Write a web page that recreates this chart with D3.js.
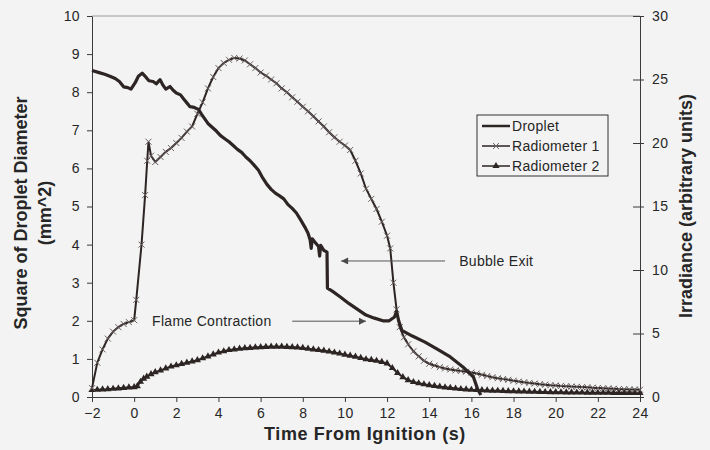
<!DOCTYPE html>
<html lang="en">
<head>
<meta charset="UTF-8">
<script src="https://d3js.org/d3.v7.min.js"></script>
<style>
  body { margin: 0; background: #f3f3f3; }
  svg { display: block; font-family: "Liberation Sans", Arial, sans-serif; }
  .axis path, .axis line { stroke: #3a3a3a; }
  .axis text { font-size: 14px; fill: #262626; letter-spacing: 0.4px; }
  .title { font-weight: bold; font-size: 18px; fill: #262626; }
  .note { font-size: 14px; fill: #262626; letter-spacing: 0.3px; }
</style>
</head>
<body>
<svg id="chart"></svg>
<script>
// tick labels
const xTicks = [-2, 0, 2, 4, 6, 8, 10, 12, 14, 16, 18, 20, 22, 24];
const leftTicks = [0, 1, 2, 3, 4, 5, 6, 7, 8, 9, 10];
const rightTicks = [0, 5, 10, 15, 20, 25, 30];

// square of droplet diameter (mm^2) vs time (s)
const droplet = [
  [-2.0, 8.57], [-1.7, 8.52], [-1.4, 8.47], [-1.15, 8.42], [-0.9, 8.36], [-0.7, 8.28],
  [-0.5, 8.14], [-0.3, 8.12], [-0.15, 8.08], [0.05, 8.25], [0.2, 8.42], [0.38, 8.5],
  [0.55, 8.4], [0.7, 8.3], [0.9, 8.28], [1.05, 8.22], [1.23, 8.33], [1.35, 8.2],
  [1.5, 8.08], [1.7, 8.15], [1.85, 8.05], [2.0, 7.98], [2.2, 7.93], [2.35, 7.82],
  [2.5, 7.72], [2.65, 7.62], [2.85, 7.6], [3.05, 7.55], [3.2, 7.42], [3.35, 7.3],
  [3.5, 7.18], [3.7, 7.08], [3.9, 6.98], [4.1, 6.86], [4.3, 6.78], [4.5, 6.7],
  [4.7, 6.6], [4.9, 6.5], [5.1, 6.42], [5.3, 6.3], [5.5, 6.2], [5.7, 6.08],
  [5.9, 5.95], [6.1, 5.75], [6.3, 5.58], [6.5, 5.45], [6.7, 5.35], [6.9, 5.28],
  [7.1, 5.2], [7.3, 5.05], [7.5, 4.95], [7.7, 4.83], [7.9, 4.65], [8.1, 4.46],
  [8.25, 4.3], [8.35, 4.12], [8.4, 3.9], [8.45, 4.15], [8.6, 4.05], [8.75, 3.95],
  [8.8, 3.7], [8.85, 3.98], [9.0, 3.85], [9.15, 3.8], [9.17, 2.86], [9.4, 2.78],
  [9.8, 2.62], [10.2, 2.45], [10.6, 2.3], [11.0, 2.15], [11.4, 2.07], [11.8, 2.0],
  [12.1, 2.0], [12.35, 2.1], [12.45, 2.25], [12.55, 2.0], [12.7, 1.75], [13.2, 1.6],
  [13.8, 1.44], [14.4, 1.25], [15.0, 1.05], [15.6, 0.79], [16.1, 0.52], [16.3, 0.2],
  [16.45, 0.05]
];

// radiometer 1 irradiance (arbitrary units) vs time (s)
const radiometer1 = [
  [-2.0, 0.7], [-1.75, 2.7], [-1.5, 3.75], [-1.25, 4.6], [-1.0, 5.15], [-0.75, 5.5],
  [-0.5, 5.75], [-0.25, 5.9], [0.0, 6.05], [0.1, 7.65], [0.35, 12.0], [0.52, 15.9],
  [0.62, 18.6], [0.68, 20.1], [0.8, 19.0], [1.0, 18.5], [1.25, 18.9], [1.5, 19.3],
  [1.75, 19.6], [2.0, 20.0], [2.25, 20.4], [2.5, 20.9], [2.75, 21.3], [3.0, 22.3],
  [3.25, 23.2], [3.5, 24.3], [3.75, 25.2], [4.0, 25.9], [4.25, 26.3], [4.5, 26.55],
  [4.75, 26.7], [5.0, 26.65], [5.25, 26.5], [5.5, 26.2], [5.75, 25.9], [6.0, 25.55],
  [6.25, 25.3], [6.5, 25.0], [6.75, 24.7], [7.0, 24.3], [7.25, 24.0], [7.5, 23.6],
  [7.75, 23.25], [8.0, 22.85], [8.25, 22.5], [8.5, 22.1], [8.75, 21.7], [9.0, 21.3],
  [9.25, 20.85], [9.5, 20.45], [9.75, 20.1], [10.0, 19.8], [10.25, 19.45], [10.5, 18.6],
  [10.75, 17.6], [11.0, 16.4], [11.25, 15.6], [11.5, 14.8], [11.75, 13.8], [12.0, 12.7],
  [12.15, 11.7], [12.3, 9.0], [12.45, 6.9], [12.6, 5.5], [12.8, 4.7], [13.0, 4.15],
  [13.25, 3.6], [13.5, 3.2], [13.75, 2.85], [14.0, 2.62], [14.25, 2.48], [14.5, 2.35],
  [14.75, 2.25], [15.0, 2.17], [15.25, 2.1], [15.5, 2.05], [15.75, 1.99], [16.0, 1.93],
  [16.25, 1.85], [16.5, 1.75], [16.75, 1.65], [17.0, 1.56], [17.25, 1.48], [17.5, 1.41],
  [17.75, 1.35], [18.0, 1.28], [18.25, 1.22], [18.5, 1.16], [18.75, 1.11], [19.0, 1.06],
  [19.25, 1.01], [19.5, 0.97], [19.75, 0.93], [20.0, 0.9], [20.25, 0.87], [20.5, 0.85],
  [20.75, 0.82], [21.0, 0.8], [21.25, 0.78], [21.5, 0.76], [21.75, 0.73], [22.0, 0.71],
  [22.25, 0.69], [22.5, 0.67], [22.75, 0.65], [23.0, 0.63], [23.25, 0.62], [23.5, 0.6],
  [23.75, 0.59], [24.0, 0.57]
];

// radiometer 2 irradiance (arbitrary units) vs time (s)
const radiometer2 = [
  [-2.0, 0.55], [-1.75, 0.57], [-1.5, 0.6], [-1.25, 0.62], [-1.0, 0.65], [-0.75, 0.68],
  [-0.5, 0.72], [-0.25, 0.75], [0.0, 0.78], [0.15, 0.85], [0.3, 1.2], [0.45, 1.45],
  [0.6, 1.6], [0.8, 1.8], [1.0, 1.95], [1.25, 2.1], [1.5, 2.25], [1.75, 2.4],
  [2.0, 2.5], [2.25, 2.6], [2.5, 2.7], [2.75, 2.8], [3.0, 2.9], [3.25, 3.05],
  [3.5, 3.2], [3.75, 3.35], [4.0, 3.5], [4.25, 3.6], [4.5, 3.7], [4.75, 3.75],
  [5.0, 3.8], [5.25, 3.84], [5.5, 3.87], [5.75, 3.9], [6.0, 3.93], [6.25, 3.95],
  [6.5, 3.96], [6.75, 3.97], [7.0, 3.96], [7.25, 3.95], [7.5, 3.93], [7.75, 3.9],
  [8.0, 3.86], [8.25, 3.8], [8.5, 3.75], [8.75, 3.7], [9.0, 3.65], [9.25, 3.58],
  [9.5, 3.5], [9.75, 3.42], [10.0, 3.33], [10.25, 3.25], [10.5, 3.18], [10.75, 3.08],
  [11.0, 2.97], [11.25, 2.92], [11.5, 2.85], [11.75, 2.76], [12.0, 2.64], [12.25, 2.28],
  [12.5, 1.89], [12.75, 1.56], [13.0, 1.32], [13.25, 1.18], [13.5, 1.08], [13.75, 1.0],
  [14.0, 0.93], [14.25, 0.87], [14.5, 0.81], [14.75, 0.76], [15.0, 0.72], [15.25, 0.67],
  [15.5, 0.63], [15.75, 0.6], [16.0, 0.57], [16.25, 0.55], [16.5, 0.54], [16.75, 0.52],
  [17.0, 0.5], [17.25, 0.49], [17.5, 0.48], [17.75, 0.46], [18.0, 0.45], [18.25, 0.44],
  [18.5, 0.43], [18.75, 0.42], [19.0, 0.41], [19.25, 0.4], [19.5, 0.39], [19.75, 0.38],
  [20.0, 0.38], [20.25, 0.37], [20.5, 0.36], [20.75, 0.36], [21.0, 0.35], [21.25, 0.35],
  [21.5, 0.34], [21.75, 0.34], [22.0, 0.33], [22.25, 0.33], [22.5, 0.33], [22.75, 0.32],
  [23.0, 0.32], [23.25, 0.32], [23.5, 0.31], [23.75, 0.31], [24.0, 0.31]
];

const legendNames = ["Droplet", "Radiometer 1", "Radiometer 2"];

// arrows + labels, in data coordinates of the left axis
const notes = [
  { label: "Bubble Exit", textT: 15.42, textV: 3.44, fromT: 14.75, toT: 9.82, arrowV: 3.57 },
  { label: "Flame Contraction", textT: 0.85, textV: 1.86, fromT: 7.5, toT: 11.0, arrowV: 1.99 }
];

const svgWidth = 710, svgHeight = 450;
const margin = { top: 16, right: 70, bottom: 53, left: 92 };
const lineColor = "#2d2424";

const svg = d3.select("#chart").attr("width", svgWidth).attr("height", svgHeight);

const x = d3.scaleLinear().domain([-2, 24]).range([margin.left, svgWidth - margin.right]);
const yL = d3.scaleLinear().domain([0, 10]).range([svgHeight - margin.bottom, margin.top]);
const yR = d3.scaleLinear().domain([0, 30]).range([svgHeight - margin.bottom, margin.top]);

// top border
svg.append("line")
  .attr("x1", x(-2)).attr("x2", x(24))
  .attr("y1", yL(10)).attr("y2", yL(10))
  .attr("stroke", "#9a9a9a");

// axes
svg.append("g").attr("class", "axis")
  .attr("transform", `translate(0,${yL(0)})`)
  .call(d3.axisBottom(x).tickValues(xTicks).tickSize(5).tickSizeOuter(0).tickPadding(6));

svg.append("g").attr("class", "axis")
  .attr("transform", `translate(${x(-2)},0)`)
  .call(d3.axisLeft(yL).tickValues(leftTicks).tickSize(5).tickSizeOuter(0).tickPadding(7));

const rightAxis = svg.append("g").attr("class", "axis")
  .attr("transform", `translate(${x(24)},0)`)
  .call(d3.axisRight(yR).tickValues(rightTicks).tickSize(4).tickSizeOuter(0).tickPadding(8));
rightAxis.selectAll(".tick").append("line").attr("x2", -7).attr("stroke", "#3a3a3a");

svg.selectAll(".axis .domain").attr("stroke", "#3a3a3a");

// axis titles
svg.append("text").attr("class", "title")
  .attr("x", 365).attr("y", 440)
  .attr("text-anchor", "middle").style("letter-spacing", "0.6px")
  .text("Time From Ignition (s)");

svg.append("text").attr("class", "title")
  .attr("transform", "translate(27,213) rotate(-90)")
  .attr("text-anchor", "middle")
  .text("Square of Droplet Diameter");
svg.append("text").attr("class", "title")
  .attr("transform", "translate(51,213) rotate(-90)")
  .attr("text-anchor", "middle")
  .text("(mm^2)");

svg.append("text").attr("class", "title")
  .attr("transform", "translate(692,206) rotate(-90)")
  .attr("text-anchor", "middle")
  .text("Irradiance (arbitrary units)");

// series
const lineL = d3.line().x(d => x(d[0])).y(d => yL(d[1]));
const lineR = d3.line().x(d => x(d[0])).y(d => yR(d[1]));
const crossPath = "M-3,-3L3,3M-3,3L3,-3";
const triPath = d3.symbol().type(d3.symbolTriangle).size(22)();

// radiometer 2
svg.append("path").datum(radiometer2)
  .attr("d", lineR).attr("fill", "none")
  .attr("stroke", lineColor).attr("stroke-width", 2);
svg.append("g").selectAll("path")
  .data(radiometer2).enter().append("path")
  .attr("transform", d => `translate(${x(d[0])},${yR(d[1])})`)
  .attr("d", triPath).attr("fill", lineColor);

// radiometer 1
svg.append("path").datum(radiometer1)
  .attr("d", lineR).attr("fill", "none")
  .attr("stroke", lineColor).attr("stroke-width", 2);
svg.append("g").selectAll("path")
  .data(radiometer1).enter().append("path")
  .attr("transform", d => `translate(${x(d[0])},${yR(d[1])})`)
  .attr("d", crossPath).attr("fill", "none")
  .attr("stroke", "#6a6060").attr("stroke-width", 1);

// droplet
svg.append("path").datum(droplet)
  .attr("d", lineL).attr("fill", "none")
  .attr("stroke", lineColor).attr("stroke-width", 3.2)
  .attr("stroke-linejoin", "round");

// annotations
svg.append("defs").append("marker")
  .attr("id", "head").attr("viewBox", "0 0 10 10")
  .attr("refX", 10).attr("refY", 5)
  .attr("markerWidth", 10).attr("markerHeight", 7)
  .attr("markerUnits", "userSpaceOnUse")
  .attr("orient", "auto")
  .append("path").attr("d", "M0,0L10,5L0,10Z").attr("fill", "#4a4a4a");

notes.forEach(n => {
  svg.append("line")
    .attr("x1", x(n.fromT)).attr("x2", x(n.toT))
    .attr("y1", yL(n.arrowV)).attr("y2", yL(n.arrowV))
    .attr("stroke", "#555").attr("stroke-width", 1)
    .attr("marker-end", "url(#head)");
  svg.append("text").attr("class", "note")
    .attr("x", x(n.textT)).attr("y", yL(n.textV))
    .text(n.label);
});

// legend
const legend = svg.append("g").attr("transform", "translate(477,115)");
legend.append("rect")
  .attr("width", 131).attr("height", 61)
  .attr("fill", "#f3f3f3").attr("stroke", "#333").attr("stroke-width", 1);

legendNames.forEach((name, i) => {
  const row = legend.append("g").attr("transform", `translate(0,${11 + i * 20})`);
  row.append("line").attr("x1", 5).attr("x2", 33)
    .attr("stroke", lineColor).attr("stroke-width", i === 0 ? 2.5 : 1.5);
  if (i === 1) {
    row.append("path").attr("transform", "translate(19,0)")
      .attr("d", crossPath).attr("stroke", "#6a6060").attr("fill", "none");
  }
  if (i === 2) {
    row.append("path").attr("transform", "translate(19,0)")
      .attr("d", triPath).attr("fill", lineColor);
  }
  row.append("text").attr("class", "note")
    .attr("x", 35).attr("y", 5)
    .text(name);
});
</script>
</body>
</html>
